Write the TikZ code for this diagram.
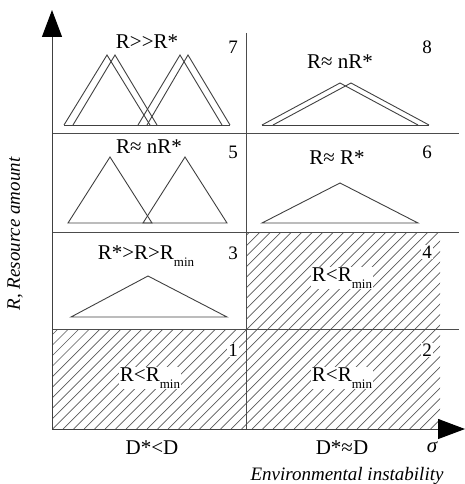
\documentclass[tikz,border=0pt]{standalone}
\usepackage{fontspec}
\setmainfont{Liberation Serif}
\usetikzlibrary{arrows.meta}
\tikzset{
  axis/.style={line width=1pt, draw=black!75, -{Triangle[length=27pt, width=20pt, black]}},
  gridline/.style={line width=1pt, draw=black!70},
  tri/.style={line width=0.9pt, draw=black!75, line join=miter},
  hatch/.style={line width=0.7pt, draw=black!65},
  state/.style={font=\fontsize{21}{21}\selectfont, inner sep=1pt},
  cellnum/.style={font=\fontsize{19}{19}\selectfont, inner sep=1pt},
  onhatch/.style={fill=white},
  axislabel/.style={font=\fontsize{19}{19}\selectfont\itshape},
}
\newcommand{\Rmin}{R\raisebox{-7pt}{\fontsize{13}{13}\selectfont min}}

\begin{document}
\begin{tikzpicture}[x=1pt, y=-1pt]
  \useasboundingbox (0,0) rectangle (465,484);
  \coordinate (o) at (52,429);
  \coordinate (ytip) at (52,10);
  \coordinate (xtip) at (465,429);
  \coordinate (midtop) at (246,33);
  \coordinate (midbot) at (246,429);

  % hatching of cells 1, 2, 4
  \begin{scope}
    \clip (52,329) rectangle (246,429) (246,232) rectangle (440,429);
    \foreach \k in {-20,...,42}
      \draw[hatch] (10.5*\k,429) -- ++(215,-215);
  \end{scope}

  % grid
  \foreach \y in {133,232,329}
    \draw[gridline] (52,\y) -- (459,\y);
  \draw[gridline] (midtop) -- (midbot);
  \draw[axis] (o) -- (ytip);
  \draw[axis] (o) -- (xtip);

  % cell 7
  \draw[tri] (64,125) -- (107,55) -- (150,125);
  \draw[tri] (73,125) -- (115,55) -- (157,125);
  \draw[tri] (138,125) -- (180,55) -- (222,125);
  \draw[tri] (147,125) -- (188,55) -- (230,125);
  \draw[tri] (64,125) -- (230,125);
  % cell 8
  \draw[tri] (262,125) -- (340,83) -- (418,125);
  \draw[tri] (273,125) -- (351,83) -- (429,125);
  \draw[tri] (262,125) -- (429,125);
  % cell 5
  \draw[tri] (68,223) -- (110,157) -- (152,223) -- cycle;
  \draw[tri] (143,223) -- (185,157) -- (227,223) -- cycle;
  % cell 6
  \draw[tri] (262,223) -- (340,183) -- (418,223) -- cycle;
  % cell 3
  \draw[tri] (71,317) -- (148,276) -- (227,317) -- cycle;

  % states
  \node[state] (s7) at (147,42) {R>{}>R*};
  \node[state] (s8) at (340,62) {R≈ nR*};
  \node[state] (s5) at (149,147) {R≈ nR*};
  \node[state] (s6) at (337,158) {R≈ R*};
  \node[state] (s3) at (146,256) {R*>R>\Rmin};
  \node[state, onhatch] (s4) at (342,278) {R<\Rmin};
  \node[state, onhatch] (s1) at (150,378) {R<\Rmin};
  \node[state, onhatch] (s2) at (342,378) {R<\Rmin};

  % cell numbers
  \node[cellnum] (n7) at (233,47) {7};
  \node[cellnum] (n8) at (427,47) {8};
  \node[cellnum] (n5) at (233,152) {5};
  \node[cellnum] (n6) at (427,152) {6};
  \node[cellnum] (n3) at (233,253) {3};
  \node[cellnum, onhatch] (n4) at (427,252) {4};
  \node[cellnum, onhatch] (n1) at (233,350) {1};
  \node[cellnum, onhatch] (n2) at (427,350) {2};

  % axis labels
  \node[state] (d1) at (152,448) {D*<D};
  \node[state] (d2) at (342,448) {D*≈D};
  \node[state, font=\fontsize{21}{21}\selectfont\itshape] (sig) at (432,447) {σ};
  \node[axislabel] (xlab) at (347,476) {Environmental instability};
  \node[axislabel, rotate=90] (ylab) at (15,234) {R, Resource amount};
\end{tikzpicture}
\end{document}
